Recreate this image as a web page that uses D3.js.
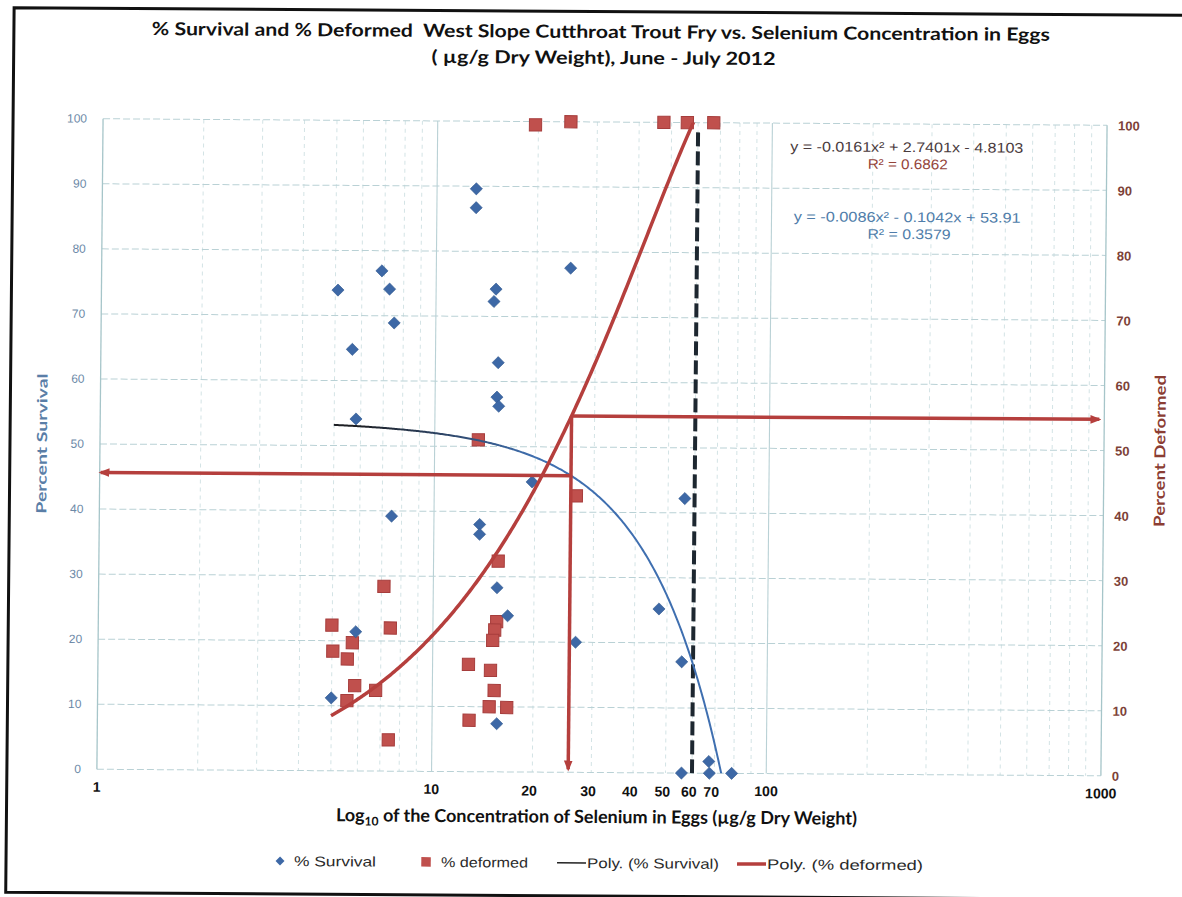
<!DOCTYPE html>
<html>
<head>
<meta charset="utf-8">
<script src="https://cdn.jsdelivr.net/npm/d3@7"></script>
<style>
  html, body { margin: 0; padding: 0; background: #fff; }
  svg { display: block; }
</style>
</head>
<body>
<svg id="chart" width="1182" height="897"></svg>
<script>
// Selenium in eggs (µg/g dry weight) against % survival of fry
const survivalConc = [5.09, 5.64, 6.88, 7.26, 7.51, 5.81, 7.47, 5.88, 4.99,
  13.1, 13.1, 15.1, 14.9, 15.4, 15.3, 15.5, 25.2, 13.7, 13.7, 19.6, 15.5,
  16.7, 15.6, 26.7, 47.3, 56.1, 55.5, 55.8, 67.3, 67.6, 78.8];
const survivalPct = [73.9, 64.8, 76.9, 74.1, 68.9, 54.1, 39.2, 21.4, 11.2,
  89.6, 86.7, 74.2, 72.3, 62.9, 57.6, 56.2, 77.5, 38.0, 36.5, 44.6, 28.3,
  24.0, 7.4, 20.0, 25.2, 42.2, 17.1, 0, 1.8, 0, 0];

// Selenium in eggs against % deformed fry
const deformedConc = [4.99, 5.03, 5.75, 5.56, 5.86, 5.56, 6.77, 7.12, 7.46, 7.41,
  13.5, 26.6, 15.6, 15.5, 15.3, 15.1, 12.8, 14.9, 15.3, 14.8, 16.7, 12.9,
  19.6, 25.0, 47.4, 55.7, 66.8];
const deformedPct = [22.4, 18.4, 19.7, 17.2, 13.1, 10.8, 12.4, 28.4, 22.0, 4.8,
  51.0, 42.5, 32.4, 23.1, 21.8, 20.2, 16.5, 15.6, 12.5, 10.0, 9.9, 7.9,
  99.5, 100, 100, 100, 100];

// Second-order polynomial fits (x in linear µg/g): [a, b, c] for a·x² + b·x + c
const survivalFit = [-0.0086, -0.1042, 53.91];
const deformedFit = [-0.0161, 2.7401, -4.8103];
const survivalR2 = 0.3579;
const deformedR2 = 0.6862;

// Concentration read across to both fitted curves, and the dashed reference level
const guideConc = 25.6;
const referenceConc = 60;
const referenceTop = 98.5;

const xMajorTicks = [1, 10, 100, 1000];
const xExtraTicks = [20, 30, 40, 50, 60, 70];
const yTicks = d3.range(0, 101, 10);
const legendLabels = ["% Survival", "% deformed", "Poly. (% Survival)", "Poly. (% deformed)"];

const titleLines = [
  "% Survival and % Deformed  West Slope Cutthroat Trout Fry vs. Selenium Concentration in Eggs",
  "( µg/g Dry Weight), June - July 2012"
];

// ---------------------------------------------------------------------------
const svg = d3.select("#chart");
const C = {
  blue: "#3d68a6", red: "#c0504d", redEdge: "#a63d3c", redLine: "#b53f3d",
  grid: "#b9d1d5", gridMinor: "#d3e3e5", axis: "#a6c5c9"
};
const poly = (f, x) => f[0] * x * x + f[1] * x + f[2];
const fmtFit = f => {
  const s = v => (v < 0 ? "- " : "+ ") + Math.abs(v);
  return `y = ${f[0]}x² ${s(f[1])}x ${s(f[2])}`;
};

const x = d3.scaleLog().domain([1, 1000]).range([100, 1104]);
const y = d3.scaleLinear().domain([0, 100]).range([772.5, 122]);
const [px0, px1] = x.range();
const [py0, py1] = y.range();

const defs = svg.append("defs");
defs.append("clipPath").attr("id", "plotClip")
  .append("rect").attr("x", px0).attr("y", py1).attr("width", px1 - px0).attr("height", py0 - py1);

const grad = defs.append("linearGradient").attr("id", "survGrad")
  .attr("gradientUnits", "userSpaceOnUse")
  .attr("x1", x(6)).attr("x2", x(20)).attr("y1", 0).attr("y2", 0);
grad.append("stop").attr("offset", 0).attr("stop-color", "#1d1f24");
grad.append("stop").attr("offset", 1).attr("stop-color", "#3f6fb0");

defs.append("marker").attr("id", "arrowEnd")
  .attr("viewBox", "0 0 10 10").attr("refX", 8).attr("refY", 5)
  .attr("markerWidth", 11).attr("markerHeight", 11)
  .attr("markerUnits", "userSpaceOnUse").attr("orient", "auto")
  .append("path").attr("d", "M0,1 L10,5 L0,9 Z").attr("fill", C.redLine);

svg.append("rect").attr("width", 1182).attr("height", 897).attr("fill", "#fff");

// whole page is set very slightly askew
const page = svg.append("g").attr("transform", "matrix(1,0.0065,-0.0095,1,4.23,-3.9)");

// outer frame
page.append("path")
  .attr("d", "M1200,11.5 L10,11.5 L10,896 L1200,896")
  .attr("fill", "none").attr("stroke", "#111").attr("stroke-width", 3);

// titles
page.append("text").attr("x", 597).attr("y", 38).attr("text-anchor", "middle")
  .attr("font-family", "Lato, 'Open Sans', sans-serif").attr("font-weight", 700)
  .attr("font-size", 18).attr("fill", "#111")
  .attr("textLength", 898).attr("lengthAdjust", "spacingAndGlyphs")
  .style("white-space", "pre").text(titleLines[0]);
page.append("text").attr("x", 600).attr("y", 64).attr("text-anchor", "middle")
  .attr("font-family", "Lato, 'Open Sans', sans-serif").attr("font-weight", 700)
  .attr("font-size", 18).attr("fill", "#111")
  .attr("textLength", 344).attr("lengthAdjust", "spacingAndGlyphs")
  .text(titleLines[1]);

// gridlines
const grid = page.append("g");
const minorTicks = [];
[1, 10, 100].forEach(d => { for (let k = 2; k <= 9; k++) minorTicks.push(k * d); });
grid.selectAll("line.minor").data(minorTicks).join("line")
  .attr("x1", d => x(d)).attr("x2", d => x(d)).attr("y1", py1).attr("y2", py0)
  .attr("stroke", C.gridMinor).attr("stroke-width", 1).attr("stroke-dasharray", "4,4");
grid.selectAll("line.major").data([10, 100]).join("line")
  .attr("x1", d => x(d)).attr("x2", d => x(d)).attr("y1", py1).attr("y2", py0)
  .attr("stroke", C.grid).attr("stroke-width", 1.1);
grid.selectAll("line.h").data(yTicks).join("line")
  .attr("x1", px0).attr("x2", px1).attr("y1", d => y(d)).attr("y2", d => y(d))
  .attr("stroke", C.grid).attr("stroke-width", 1).attr("stroke-dasharray", "7,3");
grid.selectAll("line.axis").data([px0, px1]).join("line")
  .attr("x1", d => d).attr("x2", d => d).attr("y1", py1).attr("y2", py0)
  .attr("stroke", C.axis).attr("stroke-width", 1.3);

// left axis (percent survival)
page.append("g").selectAll("text").data(yTicks).join("text")
  .attr("x", 84).attr("y", d => y(d) + 4).attr("text-anchor", "end")
  .attr("font-family", "'Liberation Sans', Arial, sans-serif").attr("font-size", 12)
  .attr("fill", "#6c89a7").text(d => d);
page.append("text")
  .attr("transform", `translate(42,${(py0 + py1) / 2}) rotate(-90)`)
  .attr("text-anchor", "middle").attr("dy", "0.35em")
  .attr("font-family", "Lato, 'Open Sans', sans-serif").attr("font-weight", 700)
  .attr("font-size", 14).attr("fill", "#5a7ea7")
  .attr("textLength", 140).attr("lengthAdjust", "spacingAndGlyphs")
  .text("Percent Survival");

// right axis (percent deformed)
page.append("g").selectAll("text").data(yTicks).join("text")
  .attr("x", 1115).attr("y", d => y(d) + 5).attr("text-anchor", "start")
  .attr("font-family", "'Liberation Sans', Arial, sans-serif").attr("font-weight", 700)
  .attr("font-size", 13).attr("fill", "#7d4238").text(d => d);
page.append("text")
  .attr("transform", `translate(1160,${(py0 + py1) / 2}) rotate(-90)`)
  .attr("text-anchor", "middle").attr("dy", "0.35em")
  .attr("font-family", "Lato, 'Open Sans', sans-serif").attr("font-weight", 700)
  .attr("font-size", 15).attr("fill", "#8b3d33")
  .attr("textLength", 152).attr("lengthAdjust", "spacingAndGlyphs")
  .text("Percent Deformed");

// x axis labels
const xl = page.append("g")
  .attr("font-family", "'Liberation Sans', Arial, sans-serif").attr("font-weight", 700)
  .attr("font-size", 14).attr("fill", "#111").attr("text-anchor", "middle");
xl.selectAll("text.maj").data(xMajorTicks).join("text")
  .attr("x", d => x(d)).attr("y", 795).text(d => d);
xl.selectAll("text.ext").data(xExtraTicks).join("text")
  .attr("x", d => x(d)).attr("dx", -3).attr("y", 796).text(d => d);

const xTitle = page.append("text").attr("x", 600).attr("y", 823).attr("text-anchor", "middle")
  .attr("font-family", "Lato, 'Open Sans', sans-serif").attr("font-weight", 700)
  .attr("font-size", 18).attr("fill", "#111");
xTitle.append("tspan").text("Log");
xTitle.append("tspan").attr("font-size", 12).attr("dy", 4).text("10");
xTitle.append("tspan").attr("dy", -4).text(" of the Concentration of Selenium in Eggs (µg/g Dry Weight)");

// dashed reference concentration
page.append("line")
  .attr("x1", x(referenceConc)).attr("x2", x(referenceConc))
  .attr("y1", y(referenceTop)).attr("y2", y(0))
  .attr("stroke", "#1d2730").attr("stroke-width", 4).attr("stroke-dasharray", "14,5");

// data markers
const diamond = d3.symbol().type(d3.symbolSquare).size(74);
const square = d3.symbol().type(d3.symbolSquare).size(150);
page.append("g").selectAll("path").data(deformedConc.map((c, i) => [c, deformedPct[i]])).join("path")
  .attr("d", square)
  .attr("transform", d => `translate(${x(d[0])},${y(d[1])})`)
  .attr("fill", C.red).attr("stroke", C.redEdge).attr("stroke-width", 1);
page.append("g").selectAll("path").data(survivalConc.map((c, i) => [c, survivalPct[i]])).join("path")
  .attr("d", diamond)
  .attr("transform", d => `translate(${x(d[0])},${y(d[1])}) rotate(45)`)
  .attr("fill", C.blue).attr("stroke", "#33598f").attr("stroke-width", 0.6);

// fitted curves, drawn across each series' concentration range
function fitPath(fit, xs) {
  const lo = Math.log10(d3.min(xs)), hi = Math.log10(d3.max(xs));
  const pts = d3.range(0, 301).map(i => {
    const c = Math.pow(10, lo + (hi - lo) * i / 300);
    return [x(c), y(poly(fit, c))];
  });
  return d3.line()(pts);
}
const fits = page.append("g").attr("clip-path", "url(#plotClip)");
fits.append("path").attr("d", fitPath(survivalFit, survivalConc))
  .attr("fill", "none").attr("stroke", "url(#survGrad)").attr("stroke-width", 2);
fits.append("path").attr("d", fitPath(deformedFit, deformedConc))
  .attr("fill", "none").attr("stroke", C.redLine).attr("stroke-width", 3.5);

// read-across guides from the chosen concentration to both fits
const guideSurv = poly(survivalFit, guideConc);
const guideDef = poly(deformedFit, guideConc);
const guides = page.append("g").attr("stroke", C.redLine).attr("stroke-width", 3.5)
  .attr("fill", "none");
guides.append("line")
  .attr("x1", x(guideConc)).attr("x2", px0 + 1).attr("y1", y(guideSurv)).attr("y2", y(guideSurv))
  .attr("marker-end", "url(#arrowEnd)");
guides.append("line")
  .attr("x1", x(guideConc)).attr("x2", x(guideConc)).attr("y1", y(guideDef)).attr("y2", y(0) - 3)
  .attr("marker-end", "url(#arrowEnd)");
guides.append("line")
  .attr("x1", x(guideConc)).attr("x2", px1 - 5).attr("y1", y(guideDef)).attr("y2", y(guideDef))
  .attr("marker-end", "url(#arrowEnd)");

// fit equations
const eq = page.append("g").attr("font-family", "'Liberation Sans', Arial, sans-serif")
  .attr("font-size", 14).attr("text-anchor", "middle");
eq.append("text").attr("x", 904).attr("y", 150).attr("fill", "#4a3b3d")
  .attr("textLength", 233).attr("lengthAdjust", "spacingAndGlyphs").text(fmtFit(deformedFit));
eq.append("text").attr("x", 905).attr("y", 167).attr("fill", "#94443a")
  .attr("textLength", 80).attr("lengthAdjust", "spacingAndGlyphs").text(`R² = ${deformedR2}`);
eq.append("text").attr("x", 905).attr("y", 220).attr("fill", "#4f7daa")
  .attr("textLength", 227).attr("lengthAdjust", "spacingAndGlyphs").text(fmtFit(survivalFit));
eq.append("text").attr("x", 907).attr("y", 237).attr("fill", "#4f7daa")
  .attr("textLength", 83).attr("lengthAdjust", "spacingAndGlyphs").text(`R² = ${survivalR2}`);

// legend
const lg = page.append("g").attr("font-family", "'Liberation Sans', Arial, sans-serif")
  .attr("font-size", 14).attr("fill", "#2a2a2a");
const ly = 863;
lg.append("path").attr("d", d3.symbol().type(d3.symbolSquare).size(40))
  .attr("transform", `translate(284,${ly}) rotate(45)`).attr("fill", C.blue);
lg.append("text").attr("x", 298).attr("y", ly + 5).attr("textLength", 82)
  .attr("lengthAdjust", "spacingAndGlyphs").text(legendLabels[0]);
lg.append("path").attr("d", d3.symbol().type(d3.symbolSquare).size(90))
  .attr("transform", `translate(430,${ly})`).attr("fill", C.red);
lg.append("text").attr("x", 445).attr("y", ly + 5).attr("textLength", 87)
  .attr("lengthAdjust", "spacingAndGlyphs").text(legendLabels[1]);
lg.append("line").attr("x1", 561).attr("x2", 590).attr("y1", ly).attr("y2", ly)
  .attr("stroke", "#222").attr("stroke-width", 1.5);
lg.append("text").attr("x", 591).attr("y", ly + 5).attr("textLength", 132)
  .attr("lengthAdjust", "spacingAndGlyphs").text(legendLabels[2]);
lg.append("line").attr("x1", 741).attr("x2", 770).attr("y1", ly).attr("y2", ly)
  .attr("stroke", C.redLine).attr("stroke-width", 3.5);
lg.append("text").attr("x", 771).attr("y", ly + 5).attr("textLength", 156)
  .attr("lengthAdjust", "spacingAndGlyphs").text(legendLabels[3]);
</script>
</body>
</html>
